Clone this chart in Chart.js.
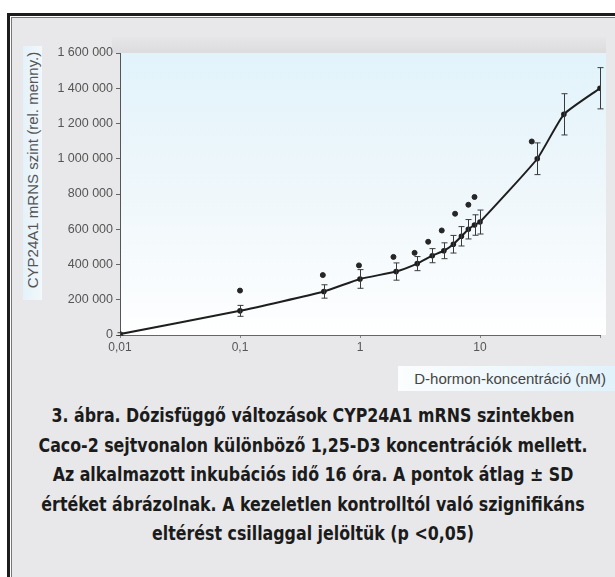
<!DOCTYPE html>
<html lang="hu">
<head>
  <meta charset="UTF-8">
  <title>CYP24A1 mRNS dózisfüggés</title>
  <script src="https://cdn.jsdelivr.net/npm/chart.js"></script>
  <style>
    * { margin: 0; padding: 0; box-sizing: border-box; }
    body {
      width: 615px;
      height: 577px;
      background: #fff;
      overflow: hidden;
      position: relative;
      font-family: "Liberation Sans", Arial, sans-serif;
    }
    /* outer double frame, cropped at right and bottom */
    .frame-outer {
      position: absolute;
      left: 7px; top: 13px;
      width: 640px; height: 600px;
      border-left: 3px solid #1c1c1c;
      border-top: 3px solid #1c1c1c;
    }
    .frame-inner {
      position: absolute;
      left: 11px; top: 17px;
      width: 640px; height: 600px;
      border-left: 1px solid #777;
      border-top: 1px solid #777;
      background: #e8e8ea;
    }
    .top-band {
      position: absolute;
      left: 112px; top: 37px;
      width: 494px; height: 16px;
      background: linear-gradient(#e6e6e8, #dcdcdf);
    }
    .chart-box {
      position: absolute;
      left: 0; top: 0;
      width: 615px; height: 400px;
    }
    .y-title-box {
      position: absolute;
      left: 23px; top: 46px;
      width: 19px; height: 254px;
      background: linear-gradient(to right, #e4f2fa, #f2f8fb);
    }
    .y-title {
      position: absolute;
      left: 32px; top: 170px;
      transform: translate(-50%, -50%) rotate(-90deg);
      white-space: nowrap;
      font-size: 15px;
      color: #555;
    }
    .x-title {
      position: absolute;
      left: 398px; top: 366px;
      width: 217px; height: 25px;
      background: linear-gradient(to right, #fbfdfe, #e2f2fa);
      font-size: 15px;
      color: #444;
      text-align: right;
      padding-right: 9px;
      line-height: 25px;
      white-space: nowrap;
    }
    .caption {
      position: absolute;
      left: -40px; top: 401px;
      width: 706px;
      text-align: center;
      white-space: nowrap;
      font-family: "DejaVu Sans Condensed", "Liberation Sans Narrow", sans-serif;
      font-stretch: condensed;
      font-weight: bold;
      font-size: 20px;
      line-height: 29.5px;
      color: #1b1b1b;
      transform: scaleX(0.88);
      transform-origin: 50% 0;
    }
  </style>
</head>
<body>
  <div class="frame-outer"></div>
  <div class="frame-inner"></div>
  <div class="top-band"></div>
  <div class="y-title-box"></div>
  <div class="y-title">CYP24A1 mRNS szint (rel. menny.)</div>
  <div class="chart-box"><canvas id="doseChart"></canvas></div>
  <div class="x-title">D-hormon-koncentráció (nM)</div>
  <div class="caption">
    3. ábra. Dózisfüggő változások CYP24A1 mRNS szintekben<br>
    Caco-2 sejtvonalon különböző 1,25-D3 koncentrációk mellett.<br>
    Az alkalmazott inkubációs idő 16 óra. A pontok átlag ± SD<br>
    értéket ábrázolnak. A kezeletlen kontrolltól való szignifikáns<br>
    eltérést csillaggal jelöltük (p &lt;0,05)
  </div>

  <script>
    // data
    const concentrations = [0.01, 0.1, 0.5, 1, 2, 3, 4, 5, 6, 7, 8, 9, 10, 30, 50, 100];
    const meanLevels = [5000, 137000, 247000, 318000, 360000, 405000, 450000, 478000, 515000, 560000, 600000, 624000, 641000, 1000000, 1252000, 1400000];
    const sdLevels = [8000, 31000, 38000, 53000, 49000, 40000, 40000, 45000, 50000, 55000, 55000, 58000, 68000, 90000, 117000, 117000];

    // significance marks (asterisks)
    const starConcentrations = [0.1, 0.49, 0.98, 1.9, 2.85, 3.7, 4.8, 6.2, 8, 9, 27];
    const starLevels = [252000, 340000, 395000, 443000, 466000, 529000, 593000, 688000, 739000, 783000, 1098000];

    const xTickValues = [0.01, 0.1, 1, 10, 100];
    const xTickLabels = ['0,01', '0,1', '1', '10', ''];
    const yTickStep = 200000;
    const yMax = 1600000;

    const fmtThousands = v => String(v).replace(/\B(?=(\d{3})+(?!\d))/g, ' ');

    // plot background gradient
    const plotBackground = {
      id: 'plotBackground',
      beforeDraw(chart) {
        const { ctx, chartArea: a } = chart;
        const g = ctx.createLinearGradient(0, a.top, 0, a.bottom);
        g.addColorStop(0, '#e2f3fb');
        g.addColorStop(0.5, '#eff7fb');
        g.addColorStop(0.9, '#fbfdfe');
        g.addColorStop(1, '#ffffff');
        ctx.save();
        ctx.fillStyle = g;
        ctx.fillRect(a.left, a.top, a.right - a.left + 6, a.bottom - a.top);
        ctx.restore();
      }
    };

    // mean ± SD whiskers
    const errorBars = {
      id: 'errorBars',
      afterDatasetsDraw(chart) {
        const { ctx, scales: { x, y } } = chart;
        ctx.save();
        ctx.strokeStyle = '#3a3a3a';
        ctx.lineWidth = 1;
        concentrations.forEach((c, i) => {
          const px = Math.round(x.getPixelForValue(c)) + 0.5;
          const top = y.getPixelForValue(meanLevels[i] + sdLevels[i]);
          const bot = y.getPixelForValue(meanLevels[i] - sdLevels[i]);
          ctx.beginPath();
          ctx.moveTo(px, top); ctx.lineTo(px, bot);
          ctx.moveTo(px - 3, top); ctx.lineTo(px + 3, top);
          ctx.moveTo(px - 3, bot); ctx.lineTo(px + 3, bot);
          ctx.stroke();
        });
        ctx.restore();
      }
    };

    new Chart(document.getElementById('doseChart'), {
      type: 'line',
      data: {
        datasets: [
          {
            label: 'CYP24A1',
            data: concentrations.map((c, i) => ({ x: c, y: meanLevels[i] })),
            borderColor: '#1e1e1e',
            backgroundColor: '#1e1e1e',
            borderWidth: 2,
            pointRadius: 1.8,
            tension: 0.15,
            fill: false
          },
          {
            label: 'p < 0,05',
            type: 'scatter',
            data: starConcentrations.map((c, i) => ({ x: c, y: starLevels[i] })),
            backgroundColor: '#262626',
            borderColor: '#262626',
            pointRadius: 2.5,
            showLine: false
          }
        ]
      },
      options: {
        responsive: true,
        maintainAspectRatio: false,
        animation: false,
        layout: { padding: { top: 53, right: 15, left: 0, bottom: 0 } },
        plugins: {
          legend: { display: false },
          tooltip: { enabled: false }
        },
        scales: {
          x: {
            type: 'logarithmic',
            min: 0.01,
            max: 100,
            afterBuildTicks: axis => { axis.ticks = xTickValues.map(v => ({ value: v })); },
            afterFit: axis => { axis.height = 65; },
            ticks: {
              autoSkip: false,
              maxRotation: 0,
              padding: 2,
              color: '#555',
              font: { family: 'Liberation Sans', size: 12 },
              callback: (v) => xTickLabels[xTickValues.indexOf(v)]
            },
            grid: { display: true, drawOnChartArea: false, drawTicks: true, tickLength: 3, color: '#888' },
            border: { display: true, color: '#666', width: 1 }
          },
          y: {
            min: 0,
            max: yMax,
            afterFit: axis => { axis.width = 120; },
            ticks: {
              stepSize: yTickStep,
              padding: 3,
              color: '#555',
              font: { family: 'Liberation Sans', size: 12.5 },
              callback: v => fmtThousands(v)
            },
            grid: { display: true, drawOnChartArea: false, drawTicks: true, tickLength: 4, color: '#666' },
            border: { display: true, color: '#555', width: 1 }
          }
        }
      },
      plugins: [plotBackground, errorBars]
    });
  </script>
</body>
</html>
